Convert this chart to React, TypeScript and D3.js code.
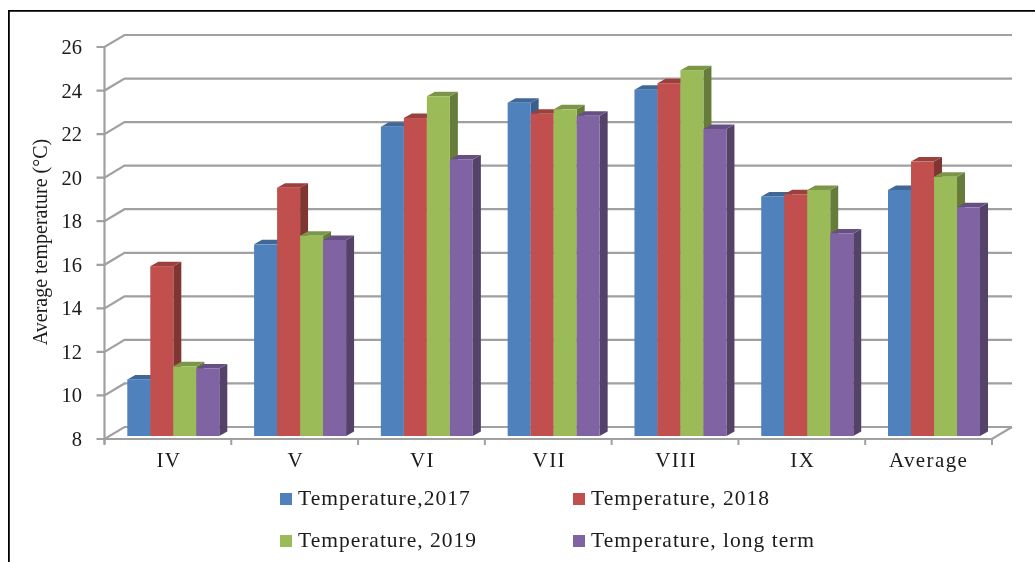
import React from "react";
import * as d3 from "d3";

const categories = ["IV", "V", "VI", "VII", "VIII", "IX", "Average"];
const seriesNames = ["Temperature,2017", "Temperature, 2018", "Temperature, 2019", "Temperature, long term"];
const t2017 = [10.6, 16.8, 22.2, 23.3, 23.9, 19.0, 19.3];
const t2018 = [15.8, 19.4, 22.6, 22.8, 24.2, 19.1, 20.6];
const t2019 = [11.2, 17.2, 23.6, 23.0, 24.8, 19.3, 19.9];
const tLong = [11.1, 17.0, 20.7, 22.7, 22.1, 17.3, 18.5];
const series = [t2017, t2018, t2019, tLong];
const yTicks = [8, 10, 12, 14, 16, 18, 20, 22, 24, 26];
const fronts = ["#4f81bd", "#c0504d", "#9bbb59", "#8064a2"];
const tops = ["#3f6797", "#9a403e", "#7c9647", "#665082"];
const sides = ["#3a5f8c", "#7f3533", "#667b3b", "#544369"];
const legendPos = [[280, 298, 499], [573, 591, 499], [280, 298, 541], [573, 591, 541]];

const FONT = "'Liberation Serif', 'Times New Roman', serif";
const GRID = "#a0a0a0";

export default function App() {
  const x0 = 104.5, x1 = 992;
  const y = d3.scaleLinear().domain([8, 26]).range([439, 47]);
  const x = d3.scaleBand<string>().domain(categories).range([x0, x1]);
  const inner = d3.scaleBand<number>().domain([0, 1, 2, 3]).range([22.8, 22.8 + 92]);
  const dx = 20, dy = -12;
  const sx = 8, sy = -4.5;
  const by = -3;

  return (
    <svg width={1035} height={562} style={{ position: "absolute", left: 0, top: 0, background: "#fff" }}>
      <defs>
        <filter id="soft" x="0" y="0" width="100%" height="100%">
          <feGaussianBlur stdDeviation="0.45" />
        </filter>
      </defs>
      <g filter="url(#soft)">
        <path d="M8.5,562 V10.5 H1035" fill="none" stroke="#000" strokeWidth={2.6} />
        {yTicks.map((t) => (
          <path key={t} d={`M${x0 - 8},${y(t)} H${x0} L${x0 + dx},${y(t) + dy} H${x1 + dx}`}
            fill="none" stroke={GRID} strokeWidth={2.2} />
        ))}
        <path d={`M${x0},${y(26)} V${y(8) + 5}`} stroke={GRID} strokeWidth={2.2} fill="none" />
        <path d={`M${x0},${y(8)} H${x1} L${x1 + dx},${y(8) + dy}`} stroke={GRID} strokeWidth={2.2} fill="none" />
        {d3.range(categories.length + 1).map((i) => {
          const tx = x0 + i * x.step();
          return <path key={i} d={`M${tx},${y(8)} V${y(8) + 6}`} stroke={GRID} strokeWidth={2} />;
        })}
        {categories.map((c, ci) =>
          series.map((vals, si) => {
            const left = (x(c) as number) + (inner(si) as number);
            const w = inner.bandwidth();
            const top = y(vals[ci]) + by;
            const base = y(8) + by;
            return (
              <g key={c + si}>
                <path d={`M${left + w},${top} l${sx},${sy} V${base + sy} l${-sx},${-sy} Z`} fill={sides[si]} />
                <path d={`M${left},${top} l${sx},${sy} h${w} l${-sx},${-sy} Z`} fill={tops[si]} />
                <rect x={left} y={top} width={w} height={base - top} fill={fronts[si]} />
              </g>
            );
          })
        )}
        <g fontFamily={FONT} fill="#1a1a1a">
          {yTicks.map((t) => (
            <text key={t} x={82} y={y(t) + 7} fontSize={20.5} textAnchor="end">{t}</text>
          ))}
          {categories.map((c) => (
            <text key={c} x={(x(c) as number) + x.bandwidth() / 2 + (c === "Average" ? 0 : 1)} y={467} fontSize={21} textAnchor="middle" letterSpacing={1.4}>{c}</text>
          ))}
          <text transform="translate(47,242) rotate(-90)" fontSize={20} textAnchor="middle">Average temperature (°C)</text>
          {seriesNames.map((n, i) => (
            <g key={n}>
              <rect x={legendPos[i][0]} y={legendPos[i][2] - 6} width={12} height={12} fill={fronts[i]} />
              <text x={legendPos[i][1]} y={legendPos[i][2] + 6} fontSize={21.5} letterSpacing={1}>{n}</text>
            </g>
          ))}
        </g>
      </g>
    </svg>
  );
}
